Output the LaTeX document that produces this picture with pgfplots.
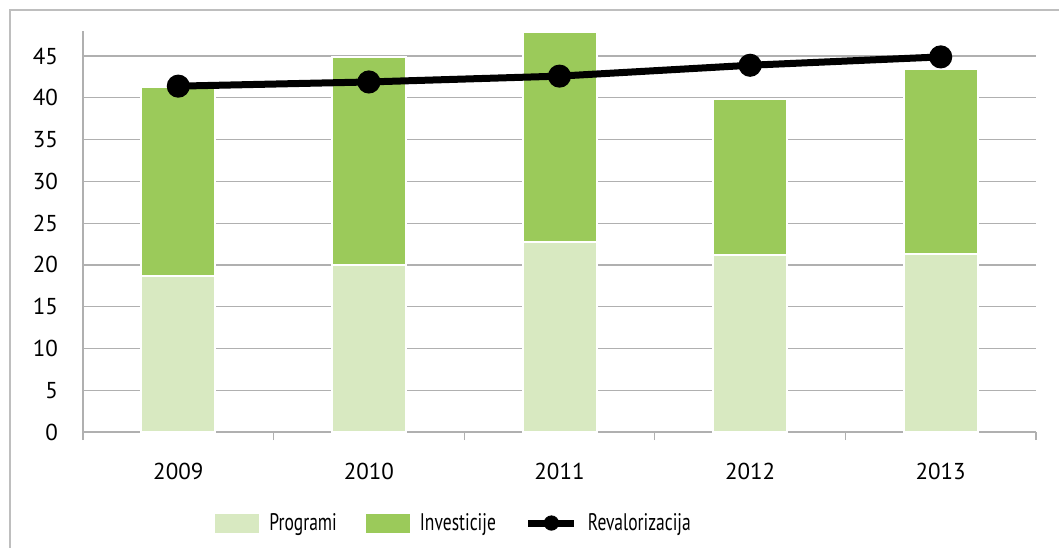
\documentclass[border=0pt]{standalone}
\usepackage{graphicx}
\usepackage{fontspec}
\setmainfont{PT Sans}
\usepackage{pgfplots}
\pgfplotsset{compat=1.18}
\definecolor{prog}{HTML}{D8E9C1}
\definecolor{inv}{HTML}{9BCA5A}
\definecolor{gridc}{HTML}{B0B0B0}
\definecolor{framec}{HTML}{BEBEBE}
\pgfplotsset{common/.style={
  scale only axis, width=476.5pt, height=200.5pt,
  xmin=-0.5, xmax=4.5, ymin=0, ymax=48,
}}
\newcommand{\legtxt}[1]{\scalebox{0.73}[1]{\fontsize{12}{14}\selectfont #1}}
\begin{document}
\begin{tikzpicture}
\useasboundingbox (-41.5pt,-57.5pt) rectangle (488pt,216pt);
\draw[framec, line width=0.7pt] (-36.5pt,-70pt) -- (-36.5pt,211pt) -- (500pt,211pt);
\begin{axis}[common,
  font=\fontsize{11.5}{13}\selectfont,
  /pgf/number format/assume math mode=true,
  ybar stacked, bar width=37pt,
  axis lines*=left,
  axis line style={gridc, line width=0.6pt},
  ymajorgrids, grid style={gridc, line width=0.6pt},
  ytick={0,5,...,45},
  y tick style={draw=none},
  yticklabel style={xshift=-5pt},
  xtick={-0.5,0.5,...,4.5},
  x tick label as interval,
  xticklabels={2009,2010,2011,2012,2013},
  x tick style={gridc, line width=0.6pt},
  tick align=outside, major tick length=4pt,
  xticklabel style={yshift=-8pt},
  legend style={draw=none, fill=none, legend columns=3, at={(0.1385,-0.227)}, anchor=west, inner sep=0pt,
    /tikz/every odd column/.append style={column sep=5pt},
    /tikz/every even column/.append style={column sep=14.5pt},
    nodes={inner sep=0pt}},
  legend cell align=left,
]
\addplot[fill=prog, draw=white, line width=1pt,
  legend image code/.code={\fill[prog] (0pt,-4.25pt) rectangle (21pt,4.25pt);}]
  coordinates {(0,18.7) (1,20.0) (2,22.7) (3,21.2) (4,21.3)};
\addlegendentry{\legtxt{Programi}}
\addplot[fill=inv, draw=white, line width=1pt,
  legend image code/.code={\fill[inv] (0pt,-4.25pt) rectangle (21pt,4.25pt);}]
  coordinates {(0,22.6) (1,24.9) (2,25.2) (3,18.7) (4,22.1)};
\addlegendentry{\legtxt{Investicije}}
\addlegendimage{legend image code/.code={\draw[black, line width=3.5pt] (0pt,0pt) -- (23pt,0pt); \fill[black] (11.5pt,0pt) circle (3.6pt);}}
\addlegendentry{\legtxt{Revalorizacija}}
\end{axis}
\begin{axis}[common, hide axis, clip=false]
\addplot[black, line width=3.5pt, mark=*, mark size=4pt]
  coordinates {(0,41.4) (1,41.9) (2,42.6) (3,43.9) (4,44.9)};
\end{axis}
\end{tikzpicture}
\end{document}
